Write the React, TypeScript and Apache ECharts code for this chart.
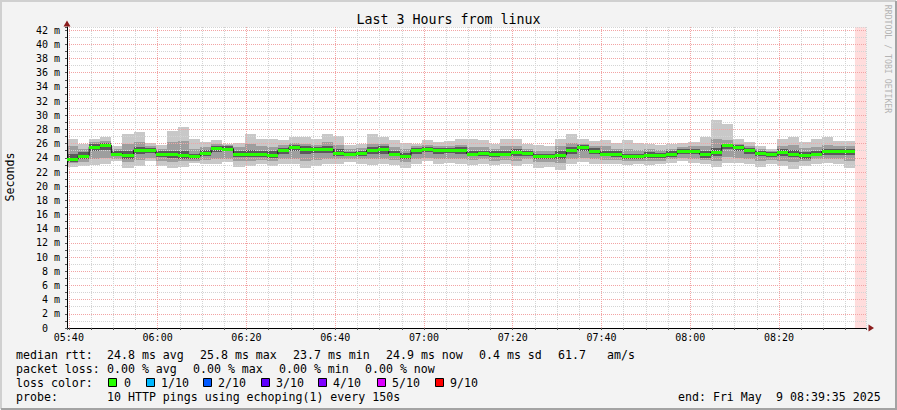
import React, { useEffect, useRef } from "react";
import * as echarts from "echarts";

// time axis: seconds after 05:00:00 ; window 05:39:35 .. 08:39:35
const START = 2375;
const END = 13175;
const STEP = 150;

const median = [
  23.8, 24.3, 25.5, 25.8, 24.6, 24.4, 25.1, 25.1, 24.6, 24.5, 24.4, 24.2, 24.7, 25.4, 25.3, 24.6, 24.6, 24.5,
  24.4, 25.1, 25.5, 25.2, 25.2, 25.2, 24.7, 24.5, 24.7, 25.1, 25.2, 24.6, 24.3, 25.1, 25.2, 25.1, 25.1, 25.1,
  24.6, 24.7, 24.6, 24.6, 24.8, 24.7, 24.3, 24.2, 24.4, 25.1, 25.5, 25.0, 24.6, 24.5, 24.2, 24.2, 24.4, 24.4,
  24.5, 24.9, 24.9, 24.5, 24.8, 25.8, 25.5, 25.1, 24.7, 24.5, 24.8, 24.6, 24.4, 24.6, 24.9, 24.9, 24.9,
];
const maxV = [
  26.7, 26.0, 26.7, 26.9, 25.6, 27.3, 27.6, 26.1, 25.8, 27.8, 28.4, 26.6, 26.3, 26.5, 26.0, 26.1, 27.3, 26.7,
  26.7, 26.5, 26.9, 26.9, 26.6, 27.4, 27.1, 25.8, 26.0, 27.3, 26.9, 26.5, 26.1, 26.0, 26.5, 26.3, 26.4, 26.7,
  26.7, 26.5, 26.0, 26.6, 26.7, 26.0, 25.8, 25.6, 26.7, 27.4, 26.7, 26.4, 26.5, 26.1, 26.5, 26.1, 26.0, 25.8,
  26.0, 26.1, 26.3, 26.9, 29.3, 28.8, 26.6, 26.3, 25.7, 25.3, 26.6, 26.9, 26.3, 26.6, 26.9, 26.4, 26.4,
];
const minV = [
  22.7, 22.8, 23.0, 23.1, 23.5, 22.6, 22.8, 23.5, 22.8, 22.5, 22.7, 23.3, 23.1, 23.1, 23.4, 22.7, 22.8, 23.1,
  22.8, 23.1, 23.1, 22.5, 22.8, 23.1, 23.1, 23.4, 23.1, 23.0, 23.1, 23.0, 22.6, 23.1, 23.5, 23.1, 23.3, 23.1,
  23.0, 23.1, 23.0, 23.1, 22.8, 23.1, 22.6, 22.7, 22.3, 23.1, 23.4, 23.1, 23.1, 23.1, 23.0, 23.1, 23.0, 23.1,
  23.3, 23.5, 23.3, 23.1, 22.7, 23.3, 23.2, 23.1, 22.7, 23.1, 22.8, 22.4, 22.8, 23.1, 23.2, 23.1, 22.6,
];
const hi2 = [
  25.6, 25.3, 26.2, 26.4, 25.2, 26.0, 26.3, 25.7, 25.3, 26.2, 26.4, 25.3, 25.5, 26.0, 25.8, 25.5, 25.9, 25.6,
  25.5, 25.8, 26.1, 26.0, 25.8, 26.3, 25.8, 25.2, 25.4, 26.0, 25.9, 25.5, 25.2, 25.6, 25.8, 25.7, 25.7, 25.8,
  25.5, 25.5, 25.3, 25.6, 25.7, 25.3, 25.0, 24.9, 25.6, 26.1, 26.0, 25.7, 25.6, 25.3, 25.3, 25.1, 25.2, 25.1,
  25.3, 25.5, 25.6, 25.7, 26.6, 26.5, 26.0, 25.7, 25.2, 25.0, 25.7, 25.8, 25.4, 25.5, 25.8, 25.6, 25.6,
];
const lo2 = [
  23.2, 23.4, 23.8, 24.0, 23.9, 23.4, 23.7, 24.0, 23.5, 23.4, 23.5, 23.6, 23.7, 23.8, 23.9, 23.5, 23.5, 23.7,
  23.5, 23.8, 23.9, 23.6, 23.7, 23.9, 23.8, 23.9, 23.8, 23.8, 23.9, 23.7, 23.4, 23.9, 24.0, 23.9, 23.9, 23.9,
  23.7, 23.8, 23.6, 23.7, 23.6, 23.8, 23.4, 23.4, 23.3, 23.8, 24.0, 23.8, 23.7, 23.7, 23.5, 23.6, 23.5, 23.6,
  23.8, 24.0, 23.9, 23.7, 23.6, 24.1, 24.0, 23.8, 23.6, 23.7, 23.6, 23.4, 23.5, 23.8, 23.9, 23.8, 23.6,
];
const hi3 = [
  24.6, 24.8, 25.9, 26.1, 24.9, 24.9, 25.5, 25.4, 25.0, 25.0, 24.9, 24.6, 25.1, 25.7, 25.6, 25.0, 25.1, 24.9,
  24.9, 25.4, 25.8, 25.6, 25.5, 25.6, 25.2, 24.8, 25.0, 25.5, 25.6, 25.0, 24.7, 25.4, 25.5, 25.4, 25.4, 25.5,
  25.0, 25.0, 24.9, 25.0, 25.2, 25.0, 24.6, 24.5, 24.9, 25.5, 25.8, 25.4, 25.0, 24.9, 24.6, 24.6, 24.8, 24.7,
  24.9, 25.2, 25.3, 25.0, 25.4, 26.0, 25.8, 25.4, 25.0, 24.8, 25.2, 25.1, 24.8, 25.0, 25.3, 25.2, 25.2,
];
const lo3 = [
  23.4, 23.8, 24.9, 25.1, 24.2, 23.9, 24.5, 24.7, 24.1, 24.0, 23.9, 23.9, 24.2, 24.8, 24.9, 24.1, 24.1, 24.1,
  24.0, 24.6, 24.9, 24.6, 24.7, 24.7, 24.3, 24.2, 24.3, 24.6, 24.6, 24.2, 23.9, 24.6, 24.8, 24.6, 24.7, 24.6,
  24.2, 24.3, 24.1, 24.2, 24.3, 24.3, 23.9, 23.8, 23.9, 24.6, 25.0, 24.6, 24.2, 24.1, 23.8, 23.8, 24.0, 24.0,
  24.1, 24.5, 24.5, 24.0, 24.2, 25.3, 25.0, 24.6, 24.3, 24.1, 24.3, 24.1, 23.9, 24.2, 24.4, 24.4, 24.4,
];

// major (labelled) time grid, seconds after 05:00:00
const majorTimes = [2400, 3600, 4800, 6000, 7200, 8400, 9600, 10800, 12000];

const lossLabels = ["0", "1/10", "2/10", "3/10", "4/10", "5/10", "9/10"];
const lossColors = ["#26ff00", "#00b8ff", "#0059ff", "#5e00ff", "#7e00ff", "#dd00ff", "#ff0000"];

const MONO = "'DejaVu Sans Mono', monospace";
const FS = 11.6;
const MAJOR = "#f2a4a4";
const MINOR = "#d4d4d4";

function pad2(n: number) {
  return n < 10 ? "0" + n : "" + n;
}

export default function App() {
  const ref = useRef<HTMLDivElement>(null);
  useEffect(() => {
    if (!ref.current) return;
    const chart = echarts.init(ref.current, null, { renderer: "svg" });
    const stepTimes = median.map((_, i) => START + i * STEP);
    const dataEnd = START + median.length * STEP;
    const smokeData = stepTimes.map((t, i) => [t, minV[i], lo2[i], lo3[i], median[i], hi3[i], hi2[i], maxV[i]]);
    const medData = stepTimes.map((t, i) => [t, median[i]]);
    const stepLine = [...medData, [dataEnd, median[median.length - 1]]];

    const txt = (text: string, x: number, y: number, extra: any = {}) => ({
      type: "text",
      x,
      y,
      z: 10,
      silent: true,
      style: { text, fill: "#000", fontFamily: MONO, fontSize: FS, verticalAlign: "middle", align: "left", ...extra },
    });

    const swatchX = [108, 146, 203, 261, 318, 377, 435];
    const swatchLabelX = [124, 161, 218, 276, 333, 392, 450];

    const graphics: any[] = [
      {
        type: "polyline",
        z: 10,
        silent: true,
        shape: { points: [[1, 409], [1, 1], [896, 1]] },
        style: { stroke: "#d0d0d0", lineWidth: 2, fill: null },
      },
      {
        type: "polyline",
        z: 10,
        silent: true,
        shape: { points: [[1, 409], [896, 409], [896, 1]] },
        style: { stroke: "#a3a3a3", lineWidth: 2, fill: null },
      },
      txt("Last 3 Hours from linux", 448.5, 19, { align: "center", fontSize: 13.3 }),
      {
        type: "text",
        x: 10,
        y: 177,
        rotation: Math.PI / 2,
        z: 10,
        silent: true,
        style: { text: "Seconds", fill: "#000", fontFamily: MONO, fontSize: FS, align: "center", verticalAlign: "middle" },
      },
      {
        type: "text",
        x: 888,
        y: 59,
        rotation: -Math.PI / 2,
        z: 10,
        silent: true,
        style: { text: "RRDTOOL / TOBI OETIKER", fill: "#b4b4b4", fontFamily: MONO, fontSize: 8.2, align: "center", verticalAlign: "middle" },
      },
      {
        type: "polygon",
        z: 10,
        silent: true,
        shape: { points: [[874, 328], [868.5, 324.5], [868.5, 331.5]] },
        style: { fill: "#8b1c1c" },
      },
      {
        type: "polygon",
        z: 10,
        silent: true,
        shape: { points: [[67, 20.5], [63.5, 26.5], [70.5, 26.5]] },
        style: { fill: "#8b1c1c" },
      },
      txt("median rtt:", 16, 354.5),
      txt("24.8 ms avg", 107, 354.5),
      txt("25.8 ms max", 200, 354.5),
      txt("23.7 ms min", 293, 354.5),
      txt("24.9 ms now", 386, 354.5),
      txt("0.4 ms sd", 479, 354.5),
      txt("61.7", 558, 354.5),
      txt("am/s", 607, 354.5),
      txt("packet loss:", 16, 368.5),
      txt("0.00 % avg", 107, 368.5),
      txt("0.00 % max", 193, 368.5),
      txt("0.00 % min", 279, 368.5),
      txt("0.00 % now", 365, 368.5),
      txt("loss color:", 16, 382.5),
      txt("probe:", 16, 396.5),
      txt("10 HTTP pings using echoping(1) every 150s", 107, 396.5),
      txt("end: Fri May", 678, 396.5),
      txt("9 08:39:35 2025", 776, 396.5),
    ];
    lossLabels.forEach((lab, i) => {
      graphics.push({
        type: "rect",
        z: 10,
        silent: true,
        shape: { x: swatchX[i] + 0.5, y: 378.5, width: 8, height: 8 },
        style: { fill: lossColors[i], stroke: "#000", lineWidth: 1 },
      });
      graphics.push(txt(lab, swatchLabelX[i], 382.5));
    });

    const option: any = {
      animation: false,
      backgroundColor: "#f3f3f3",
      grid: {
        left: 67,
        right: 31,
        top: 27,
        bottom: 82,
        containLabel: false,
        outerBoundsMode: "none",
        show: true,
        backgroundColor: "#ffffff",
        borderWidth: 0,
      },
      xAxis: {
        type: "value",
        min: START,
        max: END,
        splitNumber: 36,
        z: 3,
        axisLine: { show: true, lineStyle: { color: "#000", width: 1 } },
        axisTick: { show: true, length: 2, interval: 0, lineStyle: { color: "#555" } },
        axisLabel: {
          interval: 0,
          margin: 4,
          fontFamily: MONO,
          fontSize: 10,
          color: "#000",
          formatter: (v: number) => {
            if (v % 1200 !== 0) return "";
            const h = 5 + Math.floor(v / 3600);
            const m = Math.floor((v % 3600) / 60);
            return pad2(h) + ":" + pad2(m);
          },
        },
        splitLine: {
          show: true,
          lineStyle: { color: MINOR, type: [1, 1], width: 1 },
        },
      },
      yAxis: {
        type: "value",
        min: 0,
        max: 42.45,
        interval: 1,
        z: 3,
        axisLine: { show: true, lineStyle: { color: "#000", width: 1 } },
        axisTick: { show: true, length: 2, interval: 0, lineStyle: { color: "#555" } },
        axisLabel: {
          interval: 0,
          margin: 7,
          fontFamily: MONO,
          fontSize: 10,
          color: "#000",
          formatter: (v: number) => {
            if (!Number.isInteger(v) || v % 2 !== 0) return "";
            return v === 0 ? "0\u00a0\u00a0" : v + " m";
          },
        },
        splitLine: {
          show: true,
          lineStyle: { color: [MAJOR, MINOR], type: [1, 1], width: 1 },
        },
      },
      series: [
        {
          type: "custom",
          name: "smoke",
          z: 2,
          silent: true,
          data: smokeData,
          encode: { x: 0, y: [1, 7] },
          renderItem: (_p: any, api: any) => {
            const t0 = api.value(0);
            const x0 = Math.round(api.coord([t0, 0])[0]);
            const x1 = Math.round(api.coord([t0 + STEP, 0])[0]);
            const yOf = (v: number) => Math.round(api.coord([t0, v])[1]);
            const band = (lo: number, hi: number, fill: string) => ({
              type: "rect",
              shape: { x: x0, y: yOf(hi), width: x1 - x0, height: yOf(lo) - yOf(hi) },
              style: { fill },
            });
            return {
              type: "group",
              children: [
                band(api.value(1), api.value(7), "#c8c8c8"),
                band(api.value(2), api.value(6), "#9e9e9e"),
                band(api.value(3), api.value(5), "#5a5a5a"),
              ],
            };
          },
          markArea: {
            silent: true,
            itemStyle: { color: "#ffdcdc" },
            data: [[{ xAxis: dataEnd }, { xAxis: END }]],
          },
        },
        {
          type: "line",
          name: "major grid",
          z: 3,
          silent: true,
          data: [],
          markLine: {
            silent: true,
            symbol: "none",
            label: { show: false },
            lineStyle: { color: MAJOR, type: [1, 1], width: 1 },
            data: majorTimes.map((t) => ({ xAxis: t })),
          },
        },
        {
          type: "line",
          name: "median step",
          step: "end",
          z: 4,
          silent: true,
          showSymbol: false,
          symbol: "none",
          data: stepLine,
          lineStyle: { color: "#1a1a1a", width: 1 },
        },
        {
          type: "custom",
          name: "median",
          z: 5,
          silent: true,
          data: medData,
          encode: { x: 0, y: 1 },
          renderItem: (_p: any, api: any) => {
            const t0 = api.value(0);
            const p0 = api.coord([t0, api.value(1)]);
            const x0 = Math.round(p0[0]);
            const x1 = Math.round(api.coord([t0 + STEP, 0])[0]);
            const y = Math.round(p0[1]);
            return {
              type: "rect",
              shape: { x: x0, y: y - 1, width: x1 - x0, height: 3 },
              style: { fill: "#26ff00" },
            };
          },
        },
      ],
      graphic: graphics,
    };
    chart.setOption(option);
    return () => chart.dispose();
  }, []);
  return (
    <div
      ref={ref}
      style={{ position: "fixed", left: 0, top: 0, width: 897, height: 410, background: "#f3f3f3" }}
    />
  );
}
